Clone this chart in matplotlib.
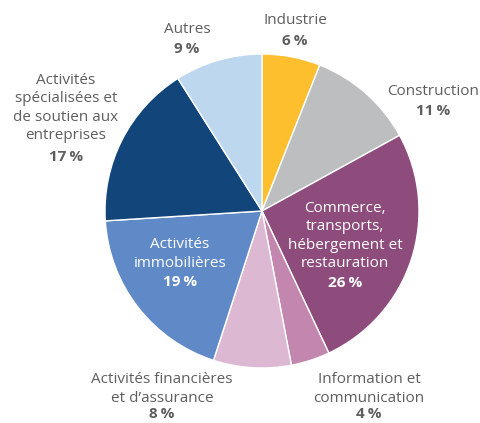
import matplotlib.pyplot as plt

plt.rcParams['font.family'] = ['Open Sans', 'DejaVu Sans']

# sectors, clockwise from the top
labels = ['Industrie', 'Construction', 'Commerce,\ntransports,\nhébergement et\nrestauration',
          'Information et\ncommunication', 'Activités financières\net d\u2019assurance',
          'Activités\nimmobilières', 'Activités\nspécialisées et\nde soutien aux\nentreprises', 'Autres']
shares = [6, 11, 26, 4, 8, 19, 17, 9]
colors = ['#FDBF2D', '#BDBEC0', '#8E4C7D', '#C286AF', '#DDB8D2', '#5F8AC7', '#12467A', '#BDD7EE']

# label placement in pixels (x, centre of name block, centre of percent line), text colour
label_pos = [(295, 20, 41), (433, 91, 111), (345, 236, 283), (369, 389, 414),
             (162, 389, 414), (180, 254, 282), (66, 108, 157), (187, 29, 49)]
inside = [False, False, True, False, False, True, False, False]

W, H = 480, 423
fig = plt.figure(figsize=(4.8, 4.23), dpi=100)
ax = fig.add_axes([0, 0, 1, 1])

ax.pie(shares, colors=colors, startangle=90, counterclock=False,
       center=(262, H - 211), radius=157,
       wedgeprops=dict(edgecolor='white', linewidth=1))
ax.set_xlim(0, W)
ax.set_ylim(0, H)
ax.set_aspect('equal')
ax.axis('off')

for lab, val, (x, yn, yp), ins in zip(labels, shares, label_pos, inside):
    c = 'white' if ins else '#5E5E5E'
    ax.text(x, H - yn, lab, ha='center', va='center', fontsize=11,
            color=c, linespacing=1.3)
    ax.text(x, H - yp, f'{val}\u2009%', ha='center', va='center', fontsize=11,
            color=c, fontweight='bold')

plt.savefig('out.png', dpi=100)
